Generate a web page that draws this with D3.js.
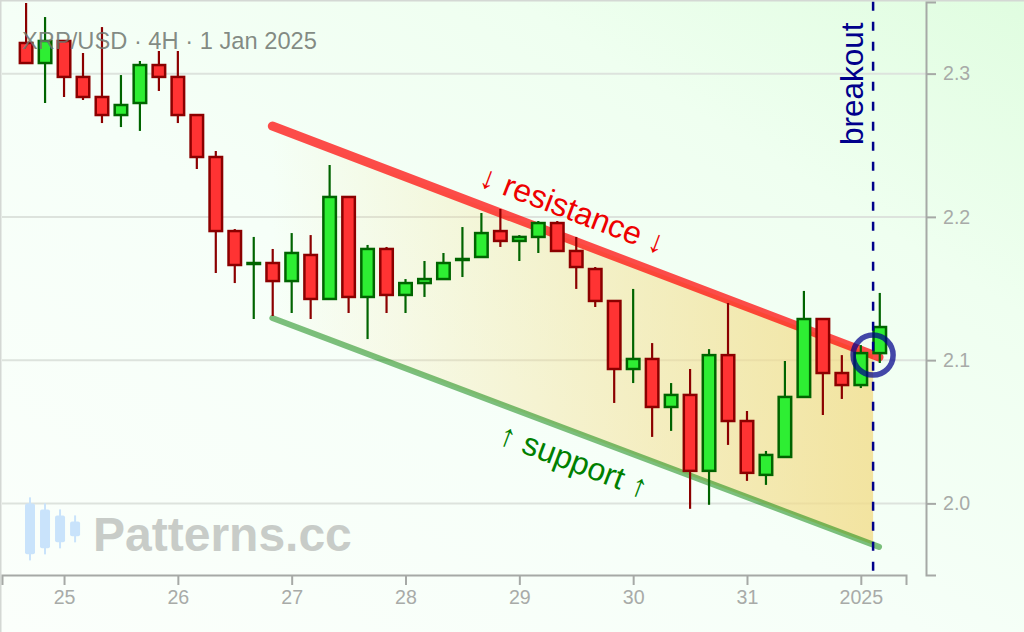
<!DOCTYPE html>
<html><head><meta charset="utf-8">
<script src="https://cdn.jsdelivr.net/npm/d3@7"></script>
<style>html,body{margin:0;padding:0;background:#fff}svg{display:block}text{font-family:"Liberation Sans",Arial,sans-serif}</style>
</head><body><svg id="c" width="1024" height="632"></svg>
<script>
const opens  = [2.3214,2.3074,2.3228,2.2977,2.2837,2.2711,2.2795,2.3060,2.2977,2.2711,2.2418,2.1901,2.1671,2.1678,2.1552,2.1734,2.1427,2.2139,2.1441,2.1776,2.1455,2.1538,2.1566,2.1699,2.1720,2.1901,2.1832,2.1860,2.1957,2.1762,2.1636,2.1413,2.0938,2.1008,2.0673,2.0757,2.0227,2.1035,2.0575,2.0199,2.0324,2.0743,2.1287,2.0910,2.0826,2.1049];
const closes = [2.3074,2.3228,2.2977,2.2837,2.2711,2.2781,2.3060,2.2977,2.2711,2.2418,2.1901,2.1664,2.1678,2.1552,2.1748,2.1427,2.2139,2.1441,2.1776,2.1455,2.1538,2.1566,2.1678,2.1706,2.1887,2.1832,2.1860,2.1957,2.1762,2.1650,2.1413,2.0938,2.1008,2.0673,2.0757,2.0227,2.1035,2.0575,2.0213,2.0338,2.0743,2.1287,2.0910,2.0826,2.1049,2.1231];
const highs  = [2.3493,2.3395,2.3228,2.3144,2.3325,2.2990,2.3088,2.3158,2.3158,2.2711,2.2460,2.1915,2.1860,2.1776,2.1887,2.1873,2.2362,2.2139,2.1804,2.1790,2.1566,2.1692,2.1748,2.1929,2.2027,2.2055,2.1873,2.1971,2.1971,2.1860,2.1650,2.1413,2.1497,2.1119,2.0840,2.0938,2.1077,2.1399,2.0645,2.0366,2.0994,2.1483,2.1287,2.1035,2.1105,2.1469];
const lows   = [2.3067,2.2795,2.2837,2.2816,2.2655,2.2627,2.2600,2.2879,2.2655,2.2334,2.1608,2.1538,2.1287,2.1308,2.1329,2.1287,2.1427,2.1329,2.1147,2.1329,2.1329,2.1441,2.1566,2.1580,2.1713,2.1790,2.1692,2.1748,2.1755,2.1497,2.1371,2.0701,2.0840,2.0464,2.0506,1.9962,1.9990,2.0408,2.0157,2.0129,2.0324,2.0743,2.0617,2.0729,2.0805,2.0980];
const firstCandleDay = 24 + 2/3;
const candlesPerDay = 6;
const xTickDays = [25,26,27,28,29,30,31,32];
const xTickLabels = ["25","26","27","28","29","30","31","2025"];
const yTicks = [2.0,2.1,2.2,2.3];
const channelDays = [26.83, 32.16];
const resistance = [2.2634, 2.1021];
const support = [2.1294, 1.9696];
const breakoutDay = 32.108;
const breakoutPrice = 2.1035;
const titleText = "XRP/USD · 4H · 1 Jan 2025";

const svg = d3.select("#c");
const x = d3.scaleLinear().domain([24.455,32.397]).range([2,906]);
const y = d3.scaleLinear().domain([1.95,2.35]).range([575,2]);
const defs = svg.append("defs");
const bg = defs.append("linearGradient").attr("id","bg").attr("x1","0").attr("y1","1").attr("x2","1").attr("y2","0");
[[0,"#fbfffb"],[0.45,"#f6fff8"],[0.75,"#effff0"],[1,"#e0fde0"]].forEach(s=>bg.append("stop").attr("offset",s[0]).attr("stop-color",s[1]));
svg.append("rect").attr("width",1024).attr("height",632).attr("fill","url(#bg)");
svg.append("path").attr("d","M0.5,632V0.5H1024").attr("fill","none").attr("stroke","#d4d8d4").attr("stroke-width",2);

// grid
svg.append("g").selectAll("line").data(yTicks).join("line")
 .attr("x1",2).attr("x2",926).attr("y1",d=>y(d)).attr("y2",d=>y(d))
 .attr("stroke","#dde3dd").attr("stroke-width",2);

// channel fill
const fg = defs.append("linearGradient").attr("id","fill").attr("gradientUnits","userSpaceOnUse")
 .attr("x1",x(channelDays[0])).attr("x2",x(breakoutDay)).attr("y1",0).attr("y2",0);
fg.append("stop").attr("offset",0).attr("stop-color","#f4dc88").attr("stop-opacity",0);
fg.append("stop").attr("offset",1).attr("stop-color","#f2dc88").attr("stop-opacity",0.78);
const frac = (breakoutDay-channelDays[0])/(channelDays[1]-channelDays[0]);
const rEnd = resistance[0]+(resistance[1]-resistance[0])*frac, sEnd = support[0]+(support[1]-support[0])*frac;
svg.append("path").attr("fill","url(#fill)").attr("d",d3.line()([
 [x(channelDays[0]),y(resistance[0])],[x(breakoutDay),y(rEnd)],[x(breakoutDay),y(sEnd)],[x(channelDays[0]),y(support[0])]
])+"Z");
// channel lines
svg.append("line").attr("x1",x(channelDays[0])).attr("x2",x(channelDays[1])).attr("y1",y(resistance[0])).attr("y2",y(resistance[1]))
 .attr("stroke","#ff0000").attr("stroke-opacity",0.7).attr("stroke-width",9).attr("stroke-linecap","round");
svg.append("line").attr("x1",x(channelDays[0])).attr("x2",x(channelDays[1])).attr("y1",y(support[0])).attr("y2",y(support[1]))
 .attr("stroke","#008000").attr("stroke-opacity",0.5).attr("stroke-width",6).attr("stroke-linecap","round");

// axes
const xAxis = d3.axisBottom(x).tickValues(xTickDays).tickFormat((d,i)=>xTickLabels[i]).tickSize(10).tickPadding(5);
const yAxis = d3.axisRight(y).tickValues(yTicks).tickFormat(d3.format(".1f")).tickSize(10).tickPadding(7);
function style(g){g.selectAll("path,line").attr("stroke","#a6a9a6").attr("stroke-width",2);
 g.selectAll("text").attr("fill","#a8aba8").attr("font-size",19.6).attr("font-family",'"Liberation Sans",Arial,sans-serif');}
svg.append("g").attr("transform","translate(0,575)").call(xAxis).call(style);
svg.append("g").attr("transform","translate(926,0)").call(yAxis).call(style);

// watermark
const logoX=[24.701,24.833,24.965,25.097], logoTop=[2.0,1.9958,1.9916,1.9874], logoBot=[1.9644,1.9686,1.9728,1.9770], logoHi=[2.0042,2.0,1.9958,1.9916], logoLo=[1.9602,1.9644,1.9686,1.9728];
const wm=svg.append("g");
logoX.forEach((d,i)=>{
 wm.append("line").attr("x1",x(d)).attr("x2",x(d)).attr("y1",y(logoHi[i])).attr("y2",y(logoLo[i])).attr("stroke","#c9e3fb").attr("stroke-width",2);
 wm.append("rect").attr("x",x(d)-5).attr("width",10).attr("y",y(logoTop[i])).attr("height",y(logoBot[i])-y(logoTop[i])).attr("rx",2).attr("fill","#c9e3fb");
});
wm.append("text").attr("x",93).attr("y",551).attr("font-size",48).attr("font-weight","bold").attr("fill","#c8ccc8").text("Patterns.cc");

// candles
const candles = opens.map((o,i)=>({i,o,c:closes[i],h:highs[i],l:lows[i],t:firstCandleDay+i/candlesPerDay,up:closes[i]>=o}));
const cg = svg.append("g");
cg.selectAll("line").data(candles).join("line")
 .attr("x1",d=>x(d.t)).attr("x2",d=>x(d.t)).attr("y1",d=>y(d.h)).attr("y2",d=>y(d.l))
 .attr("stroke",d=>d.up?"#006400":"#8b0000").attr("stroke-width",2.2);
cg.selectAll("rect").data(candles).join("rect")
 .attr("x",d=>x(d.t)-6.25).attr("width",12.5)
 .attr("y",d=>y(Math.max(d.o,d.c))).attr("height",d=>Math.abs(y(d.o)-y(d.c)))
 .attr("fill",d=>d.up?"#2eee33":"#ff3333").attr("stroke",d=>d.up?"#006400":"#8b0000").attr("stroke-width",2.5);

// title
svg.append("text").attr("x",22).attr("y",49).attr("font-size",23.7).attr("fill","#6f766f").attr("fill-opacity",0.85).text(titleText);

// breakout
svg.append("line").attr("x1",x(breakoutDay)).attr("x2",x(breakoutDay)).attr("y1",1.7).attr("y2",575)
 .attr("stroke","#00008b").attr("stroke-width",2.5).attr("stroke-dasharray","9,11");
svg.append("circle").attr("cx",x(breakoutDay)).attr("cy",y(breakoutPrice)).attr("r",20)
 .attr("fill","none").attr("stroke","#00008b").attr("stroke-opacity",0.72).attr("stroke-width",5.5);
svg.append("text").attr("transform","translate(863,145) rotate(-90)").attr("font-size",31.5).attr("fill","#00008b").text("breakout");

// labels
svg.append("text").attr("transform","translate(572,212) rotate(20.8)").attr("text-anchor","middle").attr("dominant-baseline","middle").attr("font-size",32).attr("fill","#ee0000").text("↓ resistance ↓");
svg.append("text").attr("transform","translate(573,463) rotate(20.8)").attr("text-anchor","middle").attr("dominant-baseline","middle").attr("font-size",32).attr("fill","#008000").text("↑ support ↑");
</script></body></html>
